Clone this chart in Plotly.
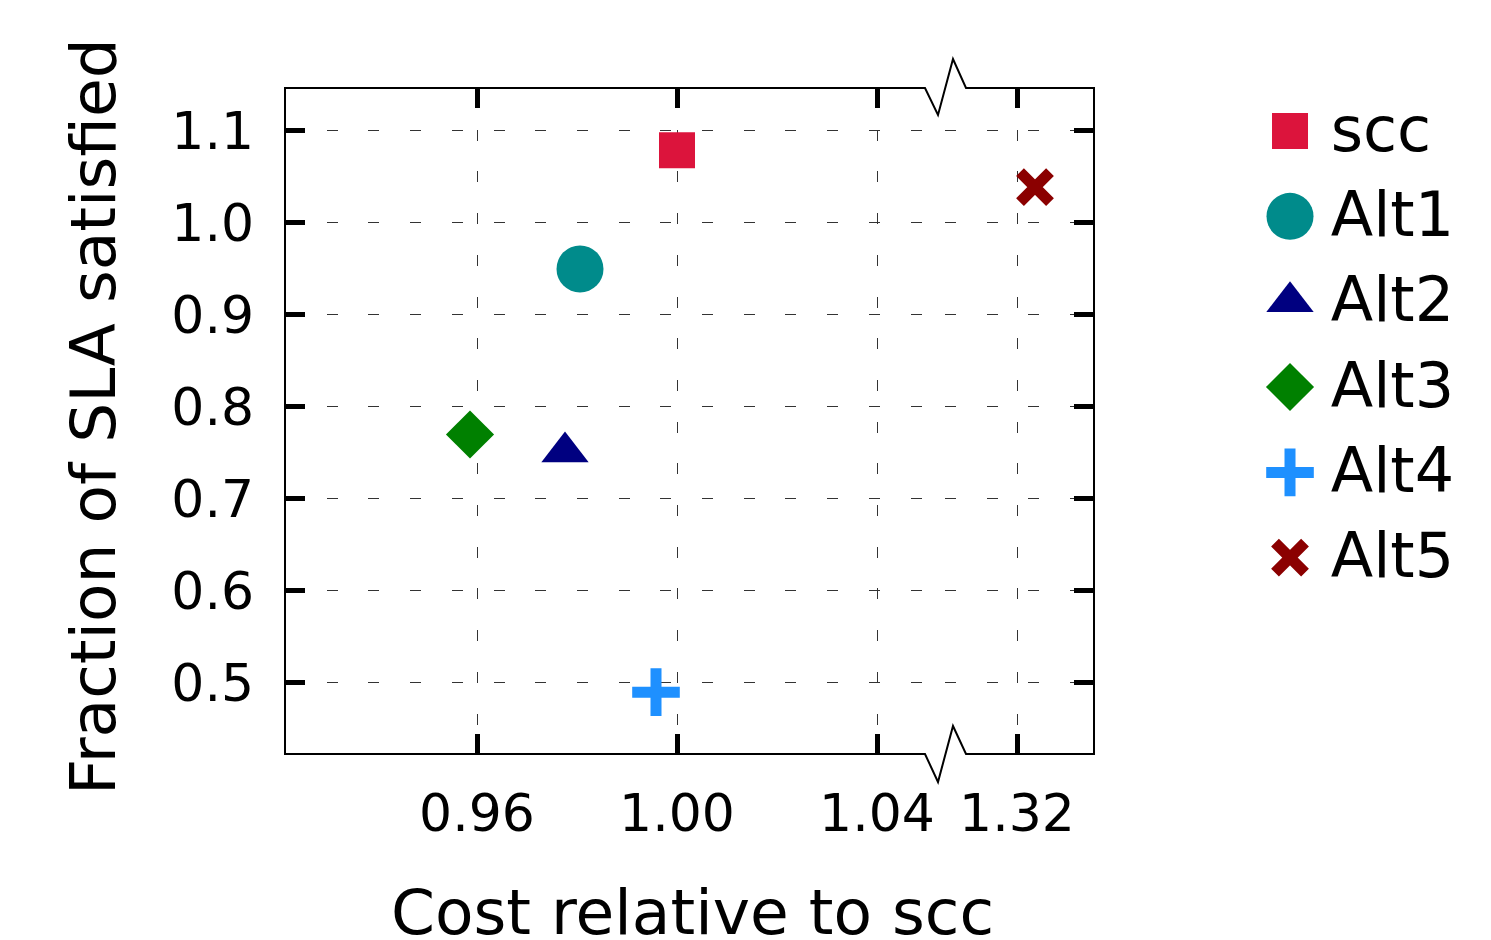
import plotly.graph_objects as go

# ---- data ----
names = ["scc", "Alt1", "Alt2", "Alt3", "Alt4", "Alt5"]
cost = [1.000, 0.9806, 0.9776, 0.9586, 0.9958, 1.3236]
sla = [1.079, 0.950, 0.751, 0.770, 0.490, 1.039]
colors = ["#DC143C", "#008B8B", "#000080", "#008000", "#1E90FF", "#8B0000"]
symbols = ["square", "circle", "triangle-up", "diamond", "cross-thin", "x-thin"]
sizes = [36, 47, 41, 37, 34, 30]
line_w = [0, 0, 0, 0, 11, 11]

left_ticks = [0.96, 1.00, 1.04]
left_ticklabels = ["0.96", "1.00", "1.04"]
right_ticks = [1.32]
right_ticklabels = ["1.32"]
y_ticks = [0.5, 0.6, 0.7, 0.8, 0.9, 1.0, 1.1]
y_ticklabels = ["0.5", "0.6", "0.7", "0.8", "0.9", "1.0", "1.1"]

left_range = [0.9216, 1.0536]
right_range = [1.3056, 1.3354]
y_range = [0.4228, 1.1467]
break_at = 1.2

W, H = 1491, 940
FONT = "DejaVu Sans"


def px(x):
    return x / W


def py(y):
    return 1 - y / H


fig = go.Figure()

for i, n in enumerate(names):
    on_right = cost[i] > break_at
    mk = dict(symbol=symbols[i], size=sizes[i], color=colors[i])
    if line_w[i]:
        mk["line"] = dict(color=colors[i], width=line_w[i])
    else:
        mk["line"] = dict(width=0)
    fig.add_trace(go.Scatter(
        x=[cost[i]], y=[sla[i]], mode="markers", name=n, marker=mk,
        xaxis="x2" if on_right else "x", yaxis="y2" if on_right else "y",
        showlegend=False, cliponaxis=False,
    ))
    # manual legend entry (hidden axes x3/y3)
    fig.add_trace(go.Scatter(
        x=[0.166], y=[i], mode="markers", marker=mk, xaxis="x3", yaxis="y3",
        showlegend=False, hoverinfo="skip", cliponaxis=False,
    ))
    fig.add_trace(go.Scatter(
        x=[0.335], y=[i + 0.05], mode="text", text=[n], textposition="middle right",
        textfont=dict(family=FONT, size=62, color="black"),
        xaxis="x3", yaxis="y3", showlegend=False, hoverinfo="skip", cliponaxis=False,
    ))

grid = dict(showgrid=True, gridcolor="#333333", gridwidth=1.2, griddash="11px,30.7px",
            zeroline=False, showline=False)
tick = dict(ticks="inside", ticklen=20, tickwidth=4.5, tickcolor="black",
            tickfont=dict(family=FONT, size=52, color="black"))

x_l0, x_b, x_r1 = 285, 945, 1094
y_t, y_b = 88, 754

fig.update_layout(
    width=W, height=H,
    margin=dict(l=0, r=0, t=0, b=0, pad=0),
    plot_bgcolor="white", paper_bgcolor="white",
    showlegend=False,
    xaxis=dict(domain=[px(x_l0), px(x_b)], range=left_range, anchor="y",
               tickvals=left_ticks, ticktext=left_ticklabels, mirror="ticks",
               ticklabelstandoff=24, **grid, **tick),
    xaxis2=dict(domain=[px(x_b), px(x_r1)], range=right_range, anchor="y2",
                tickvals=right_ticks, ticktext=right_ticklabels, mirror="ticks",
                ticklabelstandoff=24, **grid, **tick),
    yaxis=dict(domain=[py(y_b), py(y_t)], range=y_range, anchor="x",
               tickvals=y_ticks, ticktext=y_ticklabels, side="left",
               ticklabelstandoff=30, **grid, **tick),
    yaxis2=dict(domain=[py(y_b), py(y_t)], range=y_range, anchor="x2",
                tickvals=y_ticks, side="right", showticklabels=False,
                matches="y", **grid, **tick),
    xaxis3=dict(domain=[px(1250), 1.0], range=[0, 1], anchor="y3",
                visible=False, fixedrange=True),
    yaxis3=dict(domain=[py(y_b), py(y_t)], range=[7.30, -0.504], anchor="x3",
                visible=False, fixedrange=True),
)

# frame with break marks
pts = [(x_l0, y_t), (925, y_t), (938, y_t + 27), (953, y_t - 29), (966, y_t),
       (x_r1, y_t), (x_r1, y_b), (966, y_b), (953, y_b - 28), (938, y_b + 28),
       (925, y_b), (x_l0, y_b)]
path = "M " + " L ".join(f"{px(a):.5f},{py(b):.5f}" for a, b in pts) + " Z"
fig.add_shape(type="path", path=path, xref="paper", yref="paper",
              line=dict(color="black", width=2), fillcolor="rgba(0,0,0,0)", layer="above")

fig.add_annotation(text="Cost relative to scc", xref="paper", yref="paper",
                   x=px(692), y=py(912), xanchor="center", yanchor="middle",
                   showarrow=False, font=dict(family=FONT, size=63, color="black"))
fig.add_annotation(text="Fraction of SLA satisfied", xref="paper", yref="paper",
                   x=px(93), y=py(417), xanchor="center", yanchor="middle",
                   textangle=-90, showarrow=False,
                   font=dict(family=FONT, size=63, color="black"))

fig.write_html("out.html", config={"displayModeBar": False},
               post_script="document.body.style.margin='0';")
